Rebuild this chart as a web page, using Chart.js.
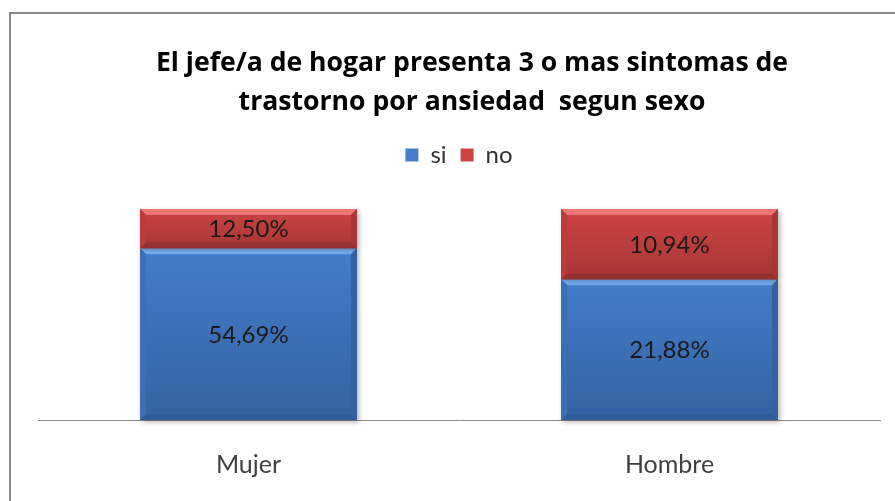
<!DOCTYPE html>
<html><head><meta charset="utf-8">
<script src="https://cdn.jsdelivr.net/npm/chart.js@4/dist/chart.umd.min.js"></script>
<style>html,body{margin:0;padding:0;background:#fff}#wrap{width:895px;height:501px;position:relative}</style>
</head><body><div id="wrap"><canvas id="c" width="895" height="501"></canvas></div>
<script>
const categories = ['Mujer', 'Hombre'];
const seriesNames = ['si', 'no'];
const siValues = [54.69, 21.88];
const noValues = [12.50, 10.94];
const titleLines = ['El jefe/a de hogar presenta 3 o mas sintomas de', 'trastorno por ansiedad  segun sexo'];

const totals = categories.map((c, i) => siValues[i] + noValues[i]);
const siShare = siValues.map((v, i) => v / totals[i] * 100);
const noShare = noValues.map((v, i) => v / totals[i] * 100);
const rawValues = [siValues, noValues];

const palettes = [
  {body:'#447dc9', top:'#74acee', bottom:'#2f5c98', left:'#3b6fb6', right:'#3561a2'},
  {body:'#cc4442', top:'#ee7572', bottom:'#963030', left:'#ba3c3b', right:'#a73635'}
];

function fmt(v){ return v.toFixed(2).replace('.', ',') + '%'; }

const framePlugin = {
  id:'frame',
  beforeDraw(chart){
    const ctx = chart.ctx;
    ctx.save();
    ctx.fillStyle = '#fff';
    ctx.fillRect(0,0,chart.width,chart.height);
    ctx.strokeStyle = '#8a8a8a';
    ctx.lineWidth = 2;
    ctx.beginPath();
    ctx.moveTo(10, chart.height + 2);
    ctx.lineTo(10, 13);
    ctx.lineTo(chart.width + 2, 13);
    ctx.stroke();
    ctx.restore();
  },
  afterDraw(chart){
    const ctx = chart.ctx;
    ctx.save();
    ctx.fillStyle = '#000';
    ctx.font = 'bold 26.6px "Open Sans"';
    ctx.textAlign = 'center';
    ctx.textBaseline = 'middle';
    ctx.fillText(titleLines[0], 472, 63);
    ctx.fillText(titleLines[1], 472, 102);
    ctx.restore();
  }
};

const bevelPlugin = {
  id:'bevel',
  afterDatasetsDraw(chart){
    const ctx = chart.ctx;
    const b = 6;
    chart.data.datasets.forEach((ds, di) => {
      const meta = chart.getDatasetMeta(di);
      const pal = palettes[di];
      meta.data.forEach((el, i) => {
        const p = el.getProps(['x','y','base','width'], true);
        const x0 = p.x - p.width/2, x1 = p.x + p.width/2;
        const y0 = Math.min(p.y, p.base), y1 = Math.max(p.y, p.base);
        ctx.save();
        const g = ctx.createLinearGradient(0, y0, 0, y1);
        g.addColorStop(0, pal.body);
        g.addColorStop(1, pal.right);
        ctx.shadowColor = 'rgba(0,0,0,0.3)';
        ctx.shadowBlur = 5;
        ctx.shadowOffsetX = 2;
        ctx.shadowOffsetY = 2;
        ctx.fillStyle = g;
        ctx.fillRect(x0, y0, x1-x0, y1-y0);
        ctx.shadowColor = 'rgba(0,0,0,0)';
        ctx.shadowBlur = 0; ctx.shadowOffsetX = 0; ctx.shadowOffsetY = 0;
        const poly = (pts, col) => {
          ctx.beginPath();
          ctx.moveTo(pts[0][0], pts[0][1]);
          for (let k=1;k<pts.length;k++) ctx.lineTo(pts[k][0], pts[k][1]);
          ctx.closePath();
          ctx.fillStyle = col; ctx.fill();
        };
        poly([[x0,y0],[x1,y0],[x1-b,y0+b],[x0+b,y0+b]], pal.top);
        poly([[x0,y1],[x1,y1],[x1-b,y1-b],[x0+b,y1-b]], pal.bottom);
        poly([[x0,y0],[x0+b,y0+b],[x0+b,y1-b],[x0,y1]], pal.left);
        poly([[x1,y0],[x1-b,y0+b],[x1-b,y1-b],[x1,y1]], pal.right);
        ctx.fillStyle = '#1a1a1a';
        ctx.font = '24px Lato';
        ctx.textAlign = 'center';
        ctx.textBaseline = 'middle';
        ctx.fillText(fmt(rawValues[di][i]), p.x, (y0+y1)/2 + 1);
        ctx.restore();
      });
    });
  }
};

new Chart(document.getElementById('c'), {
  type:'bar',
  data:{
    labels: categories,
    datasets:[
      {label: seriesNames[0], data: siShare, backgroundColor: palettes[0].body, categoryPercentage: 1, barPercentage: 0.515},
      {label: seriesNames[1], data: noShare, backgroundColor: palettes[1].body, categoryPercentage: 1, barPercentage: 0.515}
    ]
  },
  options:{
    responsive:false,
    animation:false,
    events:[],
    layout:{padding:{top:129, left:38, right:15, bottom:0}},
    plugins:{
      title:{display:false},
      tooltip:{enabled:false},
      legend:{
        display:true, position:'top',
        labels:{boxWidth:13, boxHeight:13, padding:14, color:'#333', font:{family:'Lato', size:24}}
      }
    },
    scales:{
      x:{stacked:true, grid:{display:false, drawTicks:false}, border:{display:true, color:'#8c8c8c', width:1},
         ticks:{color:'#404040', padding:30, font:{family:'Lato', size:25}}, afterFit(s){ s.height = 81; }},
      xTop:{type:'category', position:'top', display:true, grid:{display:false, drawTicks:false}, border:{display:false},
         ticks:{display:false}, afterFit(s){ s.height = 32; }},
      y:{stacked:true, display:false, min:0, max:100}
    }
  },
  plugins:[framePlugin, bevelPlugin]
});
</script>
</body></html>
